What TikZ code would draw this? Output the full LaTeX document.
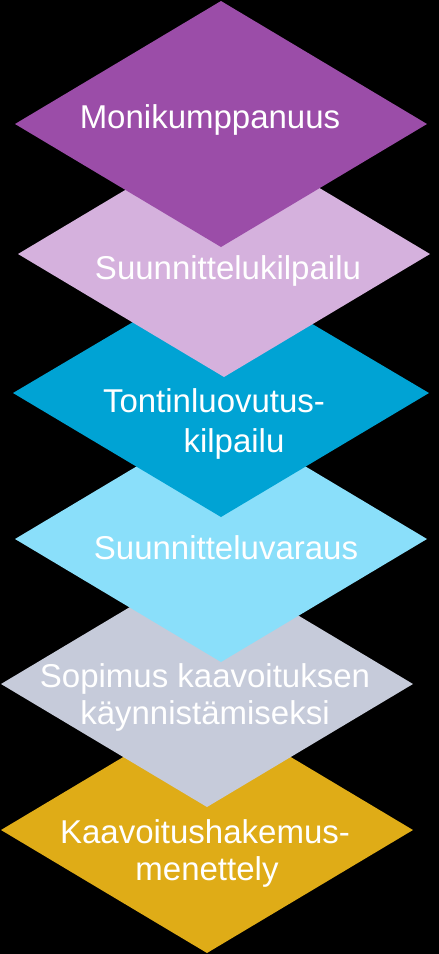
\documentclass[tikz,border=0pt]{standalone}
\usepackage{fontspec}
\setmainfont{Liberation Sans}
\usepackage{tikz}

\definecolor{monipurple}{RGB}{155,77,168}
\definecolor{kilplilac}{RGB}{213,177,221}
\definecolor{tonttiblue}{RGB}{0,163,212}
\definecolor{varausblue}{RGB}{138,223,250}
\definecolor{sopimusgrey}{RGB}{198,203,218}
\definecolor{hakemusgold}{RGB}{223,172,23}

\begin{document}
\begin{tikzpicture}[x=1pt,y=-1pt,
    label/.style={text=white, inner sep=0pt, anchor=base, font=\fontsize{33}{38}\selectfont}]
    % Background
    \fill[black] (0,0) rectangle (439,954);
    \useasboundingbox (0,0) rectangle (439,954);

    % Diamonds, lowest first so that each one lies over the next
    \fill[hakemusgold] (207,707) -- ++(206,123) -- ++(-206,123) -- ++(-206,-123) -- cycle;
    \fill[sopimusgrey] (207,561) -- ++(206,123) -- ++(-206,123) -- ++(-206,-123) -- cycle;
    \fill[varausblue] (221,416) -- ++(206,123) -- ++(-206,123) -- ++(-206,-123) -- cycle;
    \fill[tonttiblue] (221,270) -- ++(208,123) -- ++(-208,124) -- ++(-208,-124) -- cycle;
    \fill[kilplilac] (224,131) -- ++(206,123) -- ++(-206,123) -- ++(-206,-123) -- cycle;
    \fill[monipurple] (221,1) -- ++(206,123) -- ++(-206,123) -- ++(-206,-123) -- cycle;

    % Labels
    \node[label] (moni) at (210,128) {Monikumppanuus};
    \node[label] (kilp) at (228,279) {Suunnittelukilpailu};
    \node[label] (tontti) at (214,412) {Tontinluovutus-};
    \node[label] (tontti2) at (234,452) {kilpailu};
    \node[label] (varaus) at (226,559) {Suunnitteluvaraus};
    \node[label] (sopimus) at (205,687) {Sopimus kaavoituksen};
    \node[label] (sopimus2) at (205,724) {käynnistämiseksi};
    \node[label] (hakemus) at (205,843) {Kaavoitushakemus-};
    \node[label] (hakemus2) at (207,880) {menettely};
\end{tikzpicture}
\end{document}
